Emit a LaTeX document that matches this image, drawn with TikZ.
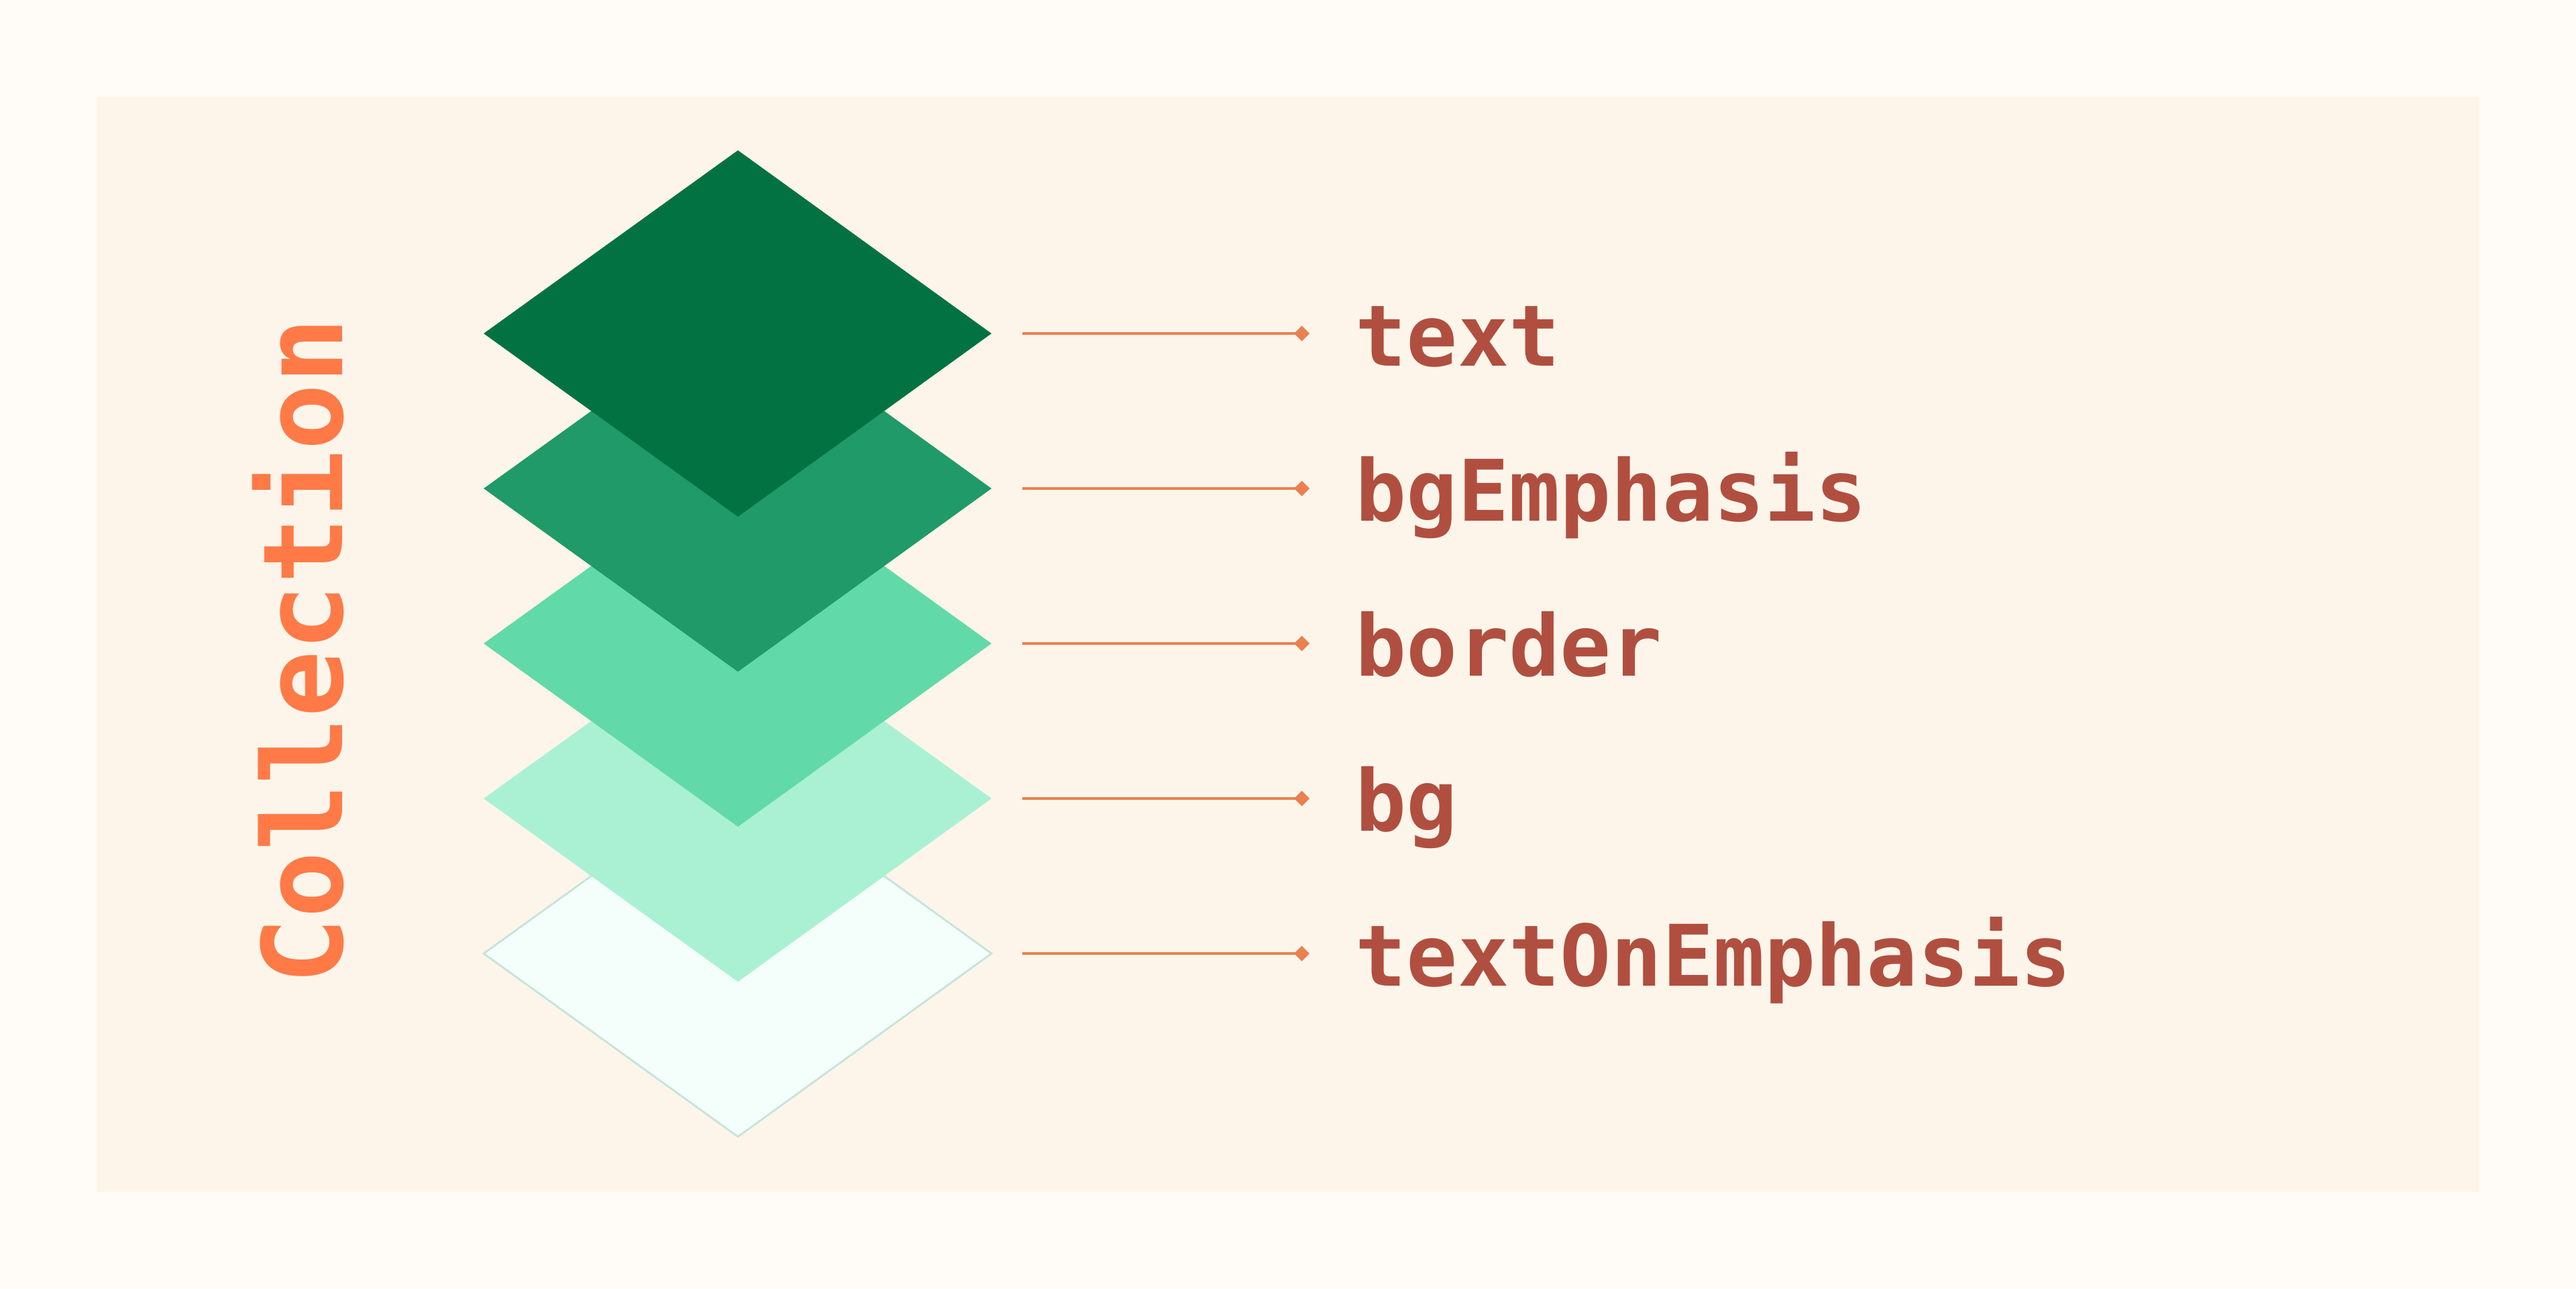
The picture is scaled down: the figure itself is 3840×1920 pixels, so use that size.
\documentclass[tikz,border=0pt]{standalone}
\usepackage{fontspec}
\newfontfamily\labmono{DejaVu Sans Mono}
\usetikzlibrary{arrows.meta}
\definecolor{outerbg}{HTML}{FFFBF6}
\definecolor{innerbg}{HTML}{FEF5EA}
\definecolor{layA}{HTML}{037243}
\definecolor{layB}{HTML}{209A68}
\definecolor{layC}{HTML}{62D9A8}
\definecolor{layD}{HTML}{AAF1D3}
\definecolor{layE}{HTML}{F4FFFB}
\definecolor{layEedge}{HTML}{C5E5D8}
\definecolor{labtext}{HTML}{B04F40}
\definecolor{connc}{HTML}{E98050}
\definecolor{titlec}{HTML}{FF7A47}
\tikzset{
  layer/.style={line width=2.5pt, line join=miter},
  conn/.style={draw=connc, line width=1.1pt, -{Diamond[length=6.5pt,width=6.5pt]}},
  lab/.style={anchor=base west, inner sep=0pt, text=labtext, font=\labmono\bfseries\fontsize{36}{40}\selectfont},
  titlelab/.style={anchor=base, inner sep=0pt, rotate=90, text=titlec, font=\labmono\bfseries\fontsize{47}{52}\selectfont}
}
\begin{document}
\begin{tikzpicture}[x=0.01cm,y=-0.01cm]
\useasboundingbox (0,0) rectangle (3840,1920);
\fill[outerbg] (0,0) rectangle (3840,1920);
\fill[innerbg] (144,144) rectangle (3696,1776);
% layers, bottom first
\filldraw[fill=layE, draw=layEedge, line width=0.8pt] (721,1421) -- (1100,1148) -- (1478,1421) -- (1100,1694) -- cycle;
\fill[layD] (721,1190) -- (1100,917) -- (1478,1190) -- (1100,1463) -- cycle;
\fill[layC] (721,959) -- (1100,686) -- (1478,959) -- (1100,1232) -- cycle;
\fill[layB] (721,728) -- (1100,455) -- (1478,728) -- (1100,1001) -- cycle;
\fill[layA] (721,497) -- (1100,224) -- (1478,497) -- (1100,770) -- cycle;
% title
\node[titlelab] (title) at (510,970) {Collection};
% connector coordinates
\coordinate (s1) at (1524,497);  \coordinate (e1) at (1952,497);
\coordinate (s2) at (1524,728);  \coordinate (e2) at (1952,728);
\coordinate (s3) at (1524,959);  \coordinate (e3) at (1952,959);
\coordinate (s4) at (1524,1190); \coordinate (e4) at (1952,1190);
\coordinate (s5) at (1524,1421); \coordinate (e5) at (1952,1421);
\draw[conn] (s1) -- (e1);
\draw[conn] (s2) -- (e2);
\draw[conn] (s3) -- (e3);
\draw[conn] (s4) -- (e4);
\draw[conn] (s5) -- (e5);
% labels
\node[lab] (l1) at (2020,545) {text};
\node[lab] (l2) at (2020,776) {bgEmphasis};
\node[lab] (l3) at (2020,1007) {border};
\node[lab] (l4) at (2020,1238) {bg};
\node[lab] (l5) at (2020,1469) {textOnEmphasis};
\end{tikzpicture}
\end{document}
